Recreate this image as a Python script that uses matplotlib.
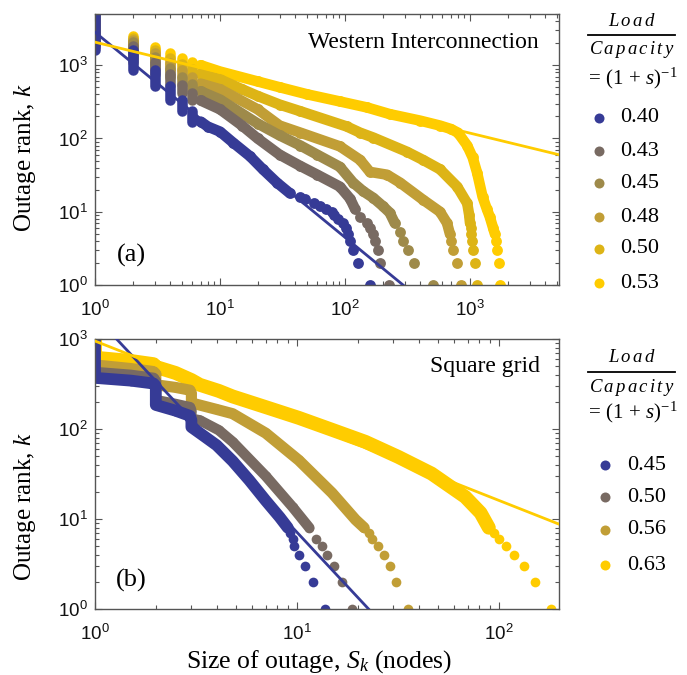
import numpy as np
import matplotlib
matplotlib.use("Agg")
import matplotlib.pyplot as plt
from matplotlib.ticker import LogLocator, NullFormatter, LogFormatterSciNotation
from matplotlib.lines import Line2D

plt.rcParams['mathtext.fontset'] = 'custom'
plt.rcParams['mathtext.rm'] = 'Liberation Serif'
plt.rcParams['mathtext.it'] = 'Liberation Serif:italic'
plt.rcParams['mathtext.sf'] = 'Liberation Sans'
plt.rcParams['font.family'] = ['Liberation Serif', 'DejaVu Sans']

# ---------------- data: panel (a) Western Interconnection ----------------
wi_loads = ['0.40', '0.43', '0.45', '0.48', '0.50', '0.53']
wi_colors = ['#363B96', '#786A62', '#9E8A4A', '#C19E36', '#DDB416', '#FFCC00']

# number of outages with size >= S, for S = 1..6 (vertical columns of tied ranks)
wi_cols_040 = [5600, 1600, 850, 515, 330, 240]
wi_cols_043 = [5600, 1850, 1100, 750, 540, 420]
wi_cols_045 = [5600, 2050, 1300, 920, 700, 560]
wi_cols_048 = [5600, 2200, 1450, 1080, 850, 680]
wi_cols_050 = [5600, 2350, 1600, 1250, 1030, 880]
wi_cols_053 = [5600, 2500, 1800, 1460, 1250, 1100]

# rank-size readings for S >= 7
wi_S_040 = [7, 8, 10, 12.7, 17.4, 22, 28.5, 36, 44, 48, 56, 63, 70, 78, 82, 88, 96, 102, 105, 110, 116, 127, 158]
wi_k_040 = [170, 145, 124, 88, 57, 38, 25, 18, 16, 15, 13, 12, 11, 10, 9, 8, 7, 6, 5, 4, 3, 2, 1]
wi_S_043 = [7, 10, 15, 20, 30, 44, 60, 91, 110, 120, 132, 150, 158, 168, 175, 183, 190, 225]
wi_k_043 = [330, 250, 150, 100, 60, 42, 32, 22, 15, 11, 8.5, 7, 6, 5, 4, 3, 2, 1]
wi_S_045 = [7, 10, 20, 30, 44, 60, 91, 116, 140, 168, 200, 228, 250, 275, 290, 318, 355, 505]
wi_k_045 = [440, 340, 160, 110, 80, 60, 41, 25, 19, 15.5, 12, 9.7, 7, 5.3, 4, 3, 2, 1]
wi_S_048 = [7, 10, 20, 30, 44, 91, 132, 158, 217, 275, 420, 575, 655, 690, 710, 730, 780, 850]
wi_k_048 = [560, 470, 250, 150, 120, 78, 51, 35, 32, 25, 14.6, 10, 7, 5, 4, 3, 2, 1]
wi_S_050 = [7, 10, 15, 20, 30, 44, 103, 132, 168, 312, 420, 575, 790, 950, 985, 1000, 1015, 1025, 1035, 1050, 1100, 1140]
wi_k_050 = [760, 640, 470, 380, 290, 235, 146, 120, 103, 66, 51, 38, 22, 13, 9, 7, 6, 5, 4, 3, 2, 1]
wi_S_053 = [7, 10, 20, 30, 50, 91, 150, 228, 400, 575, 700, 800, 950, 1050, 1140, 1260, 1360, 1440, 1530, 1580, 1610, 1640, 1690, 1740]
wi_k_053 = [1000, 820, 600, 500, 400, 320, 265, 215, 175, 150, 135, 120, 80, 55, 34, 16, 11, 8.5, 6, 5, 4, 3, 2, 1]

# power-law fits k = C * S^(-alpha)  (for 0.40 and 0.53)
wi_fit_C = [2820, 2065]
wi_fit_alpha = [1.40, 0.414]

# ---------------- data: panel (b) Square grid ----------------
sg_loads = ['0.45', '0.50', '0.56', '0.63']
sg_colors = ['#363B96', '#786A62', '#C19E36', '#FFCC00']

sg_S_045 = [1, 1, 1.5, 1.95, 2, 2, 2.5, 2.95, 3, 3, 3.5, 4, 4.8, 5.8, 7, 8.2, 9.0, 9.2, 9.5, 9.7, 10.2, 11, 12, 13.8]
sg_k_045 = [1000, 370, 345, 320, 300, 185, 160, 140, 125, 105, 82, 66, 44, 27, 16, 10.5, 8, 7, 6, 5, 4, 3, 2, 1]
sg_S_050 = [1, 1, 1.5, 1.95, 2, 2, 2.5, 2.95, 3, 3, 3.3, 4.1, 4.8, 7, 9.5, 11.5, 12.4, 13.3, 14.1, 15.2, 16.7, 18.8]
sg_k_050 = [1000, 430, 400, 370, 340, 210, 190, 175, 160, 130, 125, 97, 72, 30, 13.6, 8, 6, 5, 4, 3, 2, 1]
sg_S_056 = [1, 1, 1.5, 1.95, 2, 2, 2.5, 2.95, 3, 3, 4, 4.8, 7, 10.2, 14.9, 19.5, 21.5, 22.6, 23.5, 25.3, 27, 29, 31, 35.6]
sg_k_056 = [1000, 515, 470, 435, 410, 310, 290, 270, 250, 195, 165, 148, 90, 45, 19.5, 9.8, 8, 7, 6, 5, 4, 3, 2, 1]
sg_S_063 = [1, 1, 1.5, 1.95, 2, 2.5, 3, 3.3, 4.1, 4.8, 7, 10.2, 14.9, 21.8, 31.7, 46.3, 68, 81, 89, 94, 100, 108, 118, 133, 151, 181]
sg_k_063 = [1000, 620, 570, 525, 490, 420, 350, 310, 265, 230, 175, 133, 98, 72, 49, 32, 17.6, 11.7, 8, 7, 6, 5, 4, 3, 2, 1]

sg_fit_C = [1806, 950]
sg_fit_alpha = [2.405, 0.886]

# ---------------- figure ----------------
W, H = 687, 675
fig = plt.figure(figsize=(W / 100, H / 100), dpi=100)


def fx(x):
    return x / W


def fy(y):
    return 1 - y / H


axA = fig.add_axes([fx(95), fy(285), (559 - 95) / W, (285 - 14) / H])
axB = fig.add_axes([fx(95), fy(609), (559 - 95) / W, (609 - 339) / H])

spine_col = '#555555'


def style_axes(ax, xlim, ylim):
    ax.set_xscale('log')
    ax.set_yscale('log')
    ax.set_xlim(*xlim)
    ax.set_ylim(*ylim)
    ax.xaxis.set_major_locator(LogLocator(base=10, numticks=10))
    ax.yaxis.set_major_locator(LogLocator(base=10, numticks=10))
    ax.xaxis.set_minor_locator(LogLocator(base=10, subs=np.arange(2, 10), numticks=20))
    ax.yaxis.set_minor_locator(LogLocator(base=10, subs=np.arange(2, 10), numticks=20))
    ax.xaxis.set_major_formatter(LogFormatterSciNotation())
    ax.yaxis.set_major_formatter(LogFormatterSciNotation())
    ax.xaxis.set_minor_formatter(NullFormatter())
    ax.yaxis.set_minor_formatter(NullFormatter())
    ax.tick_params(which='both', direction='in', top=True, right=True,
                   color=spine_col, width=0.8)
    ax.tick_params(which='major', length=5)
    ax.tick_params(which='minor', length=2.8)
    ax.tick_params(axis='x', which='major', pad=11, labelsize=13.5,
                   labelfontfamily='Liberation Sans', labelcolor='#111111')
    ax.tick_params(axis='y', which='major', pad=5, labelsize=13.5,
                   labelfontfamily='Liberation Sans', labelcolor='#111111')
    for sp in ax.spines.values():
        sp.set_color(spine_col)
        sp.set_linewidth(1.0)


style_axes(axA, (1, 5150), (1, 5000))
style_axes(axB, (1, 198), (1, 1000))

# ---- panel (a) series ----
wi_cols = [wi_cols_040, wi_cols_043, wi_cols_045, wi_cols_048, wi_cols_050, wi_cols_053]
wi_S = [wi_S_040, wi_S_043, wi_S_045, wi_S_048, wi_S_050, wi_S_053]
wi_k = [wi_k_040, wi_k_043, wi_k_045, wi_k_048, wi_k_050, wi_k_053]
wi_band_min = [17, 9, 6, 5, 7, 5]

lwA = 7.6
msA = 7.8
for i in reversed(range(len(wi_loads))):
    c = wi_colors[i]
    tops = wi_cols[i]
    S = np.asarray(wi_S[i], dtype=float)
    k = np.asarray(wi_k[i], dtype=float)
    bottoms = list(tops[1:]) + [k[0]]
    for s, t, b in zip(range(1, len(tops) + 1), tops, bottoms):
        axA.plot([s, s], [t, b], color=c, lw=lwA, solid_capstyle='round', zorder=2)
    band = k >= wi_band_min[i]
    axA.plot(S[band], k[band], color=c, lw=lwA, solid_capstyle='round',
             solid_joinstyle='round', zorder=2)
    axA.plot(S, k, 'o', color=c, ms=msA, mec='none', zorder=2)

xs = np.array([1, 5150.0])
for C, a, c in zip(wi_fit_C, wi_fit_alpha, [wi_colors[0], wi_colors[-1]]):
    axA.plot(xs, C * xs ** (-a), color=c, lw=2.0, zorder=3)

# ---- panel (b) series ----
sg_S = [sg_S_045, sg_S_050, sg_S_056, sg_S_063]
sg_k = [sg_k_045, sg_k_050, sg_k_056, sg_k_063]
sg_lw = [8.5, 7.5, 8.0, 10.0]
sg_band_min = [8, 8, 8, 8]
msB = 7.0
for i in reversed(range(len(sg_loads))):
    c = sg_colors[i]
    S = np.asarray(sg_S[i], dtype=float)
    k = np.asarray(sg_k[i], dtype=float)
    band = k >= sg_band_min[i]
    axB.plot(S[band], k[band], color=c, lw=sg_lw[i], solid_capstyle='round',
             solid_joinstyle='round', zorder=2)
    axB.plot(S, k, 'o', color=c, ms=msB, mec='none', zorder=2)

xs = np.array([1, 198.0])
for C, a, c in zip(sg_fit_C, sg_fit_alpha, [sg_colors[0], sg_colors[-1]]):
    axB.plot(xs, C * xs ** (-a), color=c, lw=2.0, zorder=3)

# ---- annotations ----
fig.text(fx(539), fy(42), 'Western Interconnection', ha='right', va='center', fontsize=17)
fig.text(fx(131), fy(255), '(a)', ha='center', va='center', fontsize=19)
fig.text(fx(540), fy(366), 'Square grid', ha='right', va='center', fontsize=17)
fig.text(fx(131), fy(580), '(b)', ha='center', va='center', fontsize=19)

fig.text(fx(25), fy(158), 'Outage rank, $k$', rotation=90, ha='center', va='center', fontsize=18)
fig.text(fx(25), fy(507), 'Outage rank, $k$', rotation=90, ha='center', va='center', fontsize=18)
fig.text(fx(319), fy(662), 'Size of outage, $S_k$ (nodes)', ha='center', va='center', fontsize=18.5)


# ---- legends ----
def legend_block(ycoords, mx, tx, ytitle, loads, colors):
    y_load, y_line, y_cap, y_eq = ytitle
    fig.text(fx(632), fy(y_load), r'$\mathit{L\,o\,a\,d}$', ha='center', va='center', fontsize=13.5)
    fig.add_artist(Line2D([fx(588), fx(675)], [fy(y_line), fy(y_line)],
                          transform=fig.transFigure, color='black', lw=1.3))
    fig.text(fx(632), fy(y_cap), r'$\mathit{C\,a\,p\,a\,c\,i\,t\,y}$', ha='center', va='center', fontsize=13.5)
    fig.text(fx(631), fy(y_eq), r'$=\,(1\,+\,s)^{-1}$', ha='center', va='center', fontsize=15)
    for y, lab, c in zip(ycoords, loads, colors):
        fig.add_artist(Line2D([fx(mx)], [fy(y)], transform=fig.transFigure,
                              marker='o', ms=7.2, color=c, mec='none', ls='none'))
        fig.text(fx(tx), fy(y), lab, ha='left', va='center', fontsize=16)


legend_block([118, 151, 183, 217, 249, 283], 599, 620, (21, 35, 49, 78), wi_loads, wi_colors)
legend_block([465, 497, 530, 565], 605, 627, (358, 372, 387, 412), sg_loads, sg_colors)

fig.savefig('out.png', dpi=100)
